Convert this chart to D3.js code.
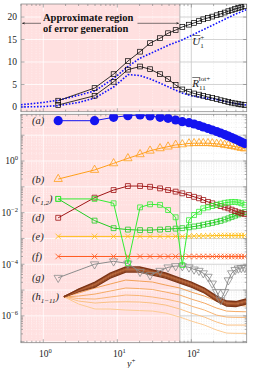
<!DOCTYPE html>
<html>
<head>
<meta charset="utf-8">
<script src="https://cdn.jsdelivr.net/npm/d3@7"></script>
<style>
body { margin: 0; background: #fff; }
text { font-family: "Liberation Serif", "DejaVu Serif", serif; }
</style>
</head>
<body>
<div class="canvas"></div>
<script>
// y+ of the sampled points (markers)
const yPlus = [1.59, 4.93, 8.91, 13.9, 20.3, 27.7, 37.8, 48.5, 61.4, 75.6, 93, 109, 127, 145, 168, 192, 220, 249, 282, 316, 351, 390, 432, 474, 525]

// top panel: black (markers) and blue dotted curves
const U1 = [1.4, 4.2, 7.3, 10.2, 12.3, 14.2, 15.3, 16.4, 17.1, 17.8, 18.3, 18.7, 19.1, 19.5, 19.8, 20.1, 20.4, 20.7, 21.0, 21.3, 21.5, 21.8, 22.0, 22.2, 22.4]
const R11 = [0.44, 2.5, 5.6, 8.3, 9.0, 8.4, 7.3, 6.2, 4.9, 3.9, 3.4, 3.0, 2.75, 2.5, 2.2, 2.0, 1.75, 1.5, 1.3, 1.1, 0.95, 0.8, 0.65, 0.55, 0.45]
const blueX = [0.5, 1, 1.6, 3, 5, 9, 14, 20, 28, 38, 50, 75, 100, 150, 200, 300, 400, 550]
const blueU = [0.5, 1.0, 1.5, 2.6, 3.6, 6.4, 9.0, 10.8, 11.9, 12.9, 13.8, 14.9, 15.9, 17.3, 18.3, 19.7, 20.7, 21.6]
const blueR = [0.0, 0.1, 0.3, 1.0, 2.0, 4.5, 7.2, 7.0, 6.2, 5.3, 4.4, 3.1, 2.5, 2.0, 1.8, 1.15, 0.75, 0.45]

// bottom panel series (a)..(g)
const sA = [36.5, 36.5, 49.4, 57, 60.7, 55.5, 49.4, 45.2, 38.8, 33.3, 30.5, 27.2, 23.8, 20.8, 18.2, 15.9, 13.9, 12.2, 10.6, 9.3, 8.1, 7.1, 6.2, 5.4, 4.8]
const sB = [0.2, 0.45, 0.81, 1.27, 1.82, 2.5, 3.1, 3.6, 4.2, 4.4, 4.8, 4.9, 4.9, 4.9, 4.9, 4.8, 4.6, 4.5, 4.2, 4.06, 3.8, 3.6, 3.4, 3.2, 3.05]
const sC1 = [0.034, 0.034, 0.023, 1.1e-4, 0.016, 0.021, 0.020, 0.0126, 0.0066, 9.3e-5, 0.0051, 0.0081, 0.0108, 0.0147, 0.016, 0.018, 0.020, 0.022, 0.024, 0.025, 0.026, 0.026, 0.025, 0.023, 0.020]
const sC2 = [0.034, 0.0049, 0.0025, 0.0022, 0.0021, 0.0021, 0.0022, 0.0023, 0.0024, 0.0025, 0.0027, 0.0029, 0.0031, 0.0034, 0.0037, 0.0040, 0.0044, 0.0048, 0.0054, 0.0060, 0.0068, 0.0076, 0.0085, 0.0095, 0.0105]
const sD = [0.0063, 0.038, 0.075, 0.107, 0.107, 0.1, 0.087, 0.075, 0.065, 0.056, 0.048, 0.041, 0.036, 0.031, 0.026, 0.023, 0.020, 0.018, 0.016, 0.0147, 0.013, 0.0115, 0.0103, 0.0094, 0.0089]
const sE = [0.0012, 0.0012, 0.0012, 0.0012, 0.0012, 0.0012, 0.0012, 0.0012, 0.0012, 0.0012, 0.00122, 0.00124, 0.00125, 0.00126, 0.00127, 0.00128, 0.00129, 0.0013, 0.0013, 0.0013, 0.0013, 0.0013, 0.0013, 0.0013, 0.0013]
const sF = [2.0e-4, 2.0e-4, 2.0e-4, 2.0e-4, 2.0e-4, 2.0e-4, 2.0e-4, 2.0e-4, 2.0e-4, 2.0e-4, 2.0e-4, 2.0e-4, 2.0e-4, 2.0e-4, 2.0e-4, 2.0e-4, 2.0e-4, 2.0e-4, 2.0e-4, 2.0e-4, 2.0e-4, 2.0e-4, 2.0e-4, 2.0e-4, 2.0e-4]
const sG = [3.0e-5, 1.0e-4, 1.3e-4, 1.07e-4, 5.1e-5, 3.8e-5, 5.6e-5, 7.6e-5, 8.5e-5, 8.5e-5, 7.6e-5, 6.3e-5, 5.6e-5, 4.5e-5, 3.3e-5, 1.8e-5, 8.5e-6, 4.1e-6, 8.5e-6, 2.4e-5, 4.5e-5, 6.0e-5, 6.9e-5, 7.2e-5, 7.4e-5]

// (h1-11) curves, no markers; h1-h6 form the dark band
const hX = [1.9, 3, 5, 8, 13, 20, 30, 45, 70, 100, 150, 220, 300, 400, 550]
const h1 = [5.5e-6, 1.09e-5, 2.04e-5, 4.56e-5, 7.79e-5, 7.79e-5, 5.96e-5, 4.56e-5, 2.92e-5, 2.04e-5, 1.2e-5, 5.85e-6, 3.75e-6, 3.58e-6, 4.48e-6]
const h2 = [5.5e-6, 1.05e-5, 1.87e-5, 4.17e-5, 7.1e-5, 7.1e-5, 5.45e-5, 4.17e-5, 2.67e-5, 1.87e-5, 1.1e-5, 5.35e-6, 3.43e-6, 3.28e-6, 4.1e-6]
const h3 = [5.5e-6, 1.0e-5, 1.71e-5, 3.82e-5, 6.5e-5, 6.5e-5, 5.0e-5, 3.82e-5, 2.44e-5, 1.71e-5, 1.0e-5, 4.9e-6, 3.14e-6, 3.0e-6, 3.75e-6]
const h4 = [5.5e-6, 9.5e-6, 1.56e-5, 3.5e-5, 5.97e-5, 5.97e-5, 4.57e-5, 3.5e-5, 2.24e-5, 1.56e-5, 9.2e-6, 4.48e-6, 2.87e-6, 2.74e-6, 3.43e-6]
const h5 = [5.5e-6, 9.0e-6, 1.43e-5, 3.2e-5, 5.45e-5, 5.45e-5, 4.17e-5, 3.2e-5, 2.04e-5, 1.43e-5, 8.4e-6, 4.1e-6, 2.63e-6, 2.5e-6, 3.14e-6]
const h6 = [5.5e-6, 8.7e-6, 1.3e-5, 2.9e-5, 5.0e-5, 5.0e-5, 3.8e-5, 2.9e-5, 1.87e-5, 1.3e-5, 7.7e-6, 3.75e-6, 2.4e-6, 2.3e-6, 2.87e-6]
const h7 = [5.5e-6, 7.65e-6, 1.2e-5, 1.71e-5, 2.44e-5, 2.23e-5, 2.04e-5, 1.56e-5, 1.2e-5, 8.36e-6, 5.85e-6, 3.75e-6, 2.87e-6, 2.62e-6, 2.4e-6]
const h8 = [5.5e-6, 5.85e-6, 7.0e-6, 9.15e-6, 1.2e-5, 1.14e-5, 1.05e-5, 8.36e-6, 6.4e-6, 4.48e-6, 3.13e-6, 2.0e-6, 1.53e-6, 1.47e-6, 1.44e-6]
const h9 = [5.5e-6, 4.69e-6, 4.48e-6, 5.36e-6, 6.4e-6, 6.12e-6, 5.36e-6, 4.48e-6, 3.43e-6, 2.4e-6, 1.68e-6, 1.07e-6, 8.98e-7, 8.74e-7, 8.74e-7]
const h10 = [5.5e-6, 3.75e-6, 3.13e-6, 3.43e-6, 3.52e-6, 3.43e-6, 3.13e-6, 2.62e-6, 1.84e-6, 1.28e-6, 8.98e-7, 5.75e-7, 4.4e-7, 4.4e-7, 4.4e-7]
const h11 = [5.5e-6, 2.87e-6, 1.84e-6, 1.84e-6, 1.68e-6, 1.6e-6, 1.53e-6, 1.28e-6, 8.98e-7, 6.28e-7, 4.4e-7, 2.82e-7, 2.15e-7, 2.1e-7, 2.1e-7]
const hLines = [h1, h2, h3, h4, h5, h6, h7, h8, h9, h10, h11]
const hColors = ['#7c3416', '#a3532c', '#b8673a', '#a3532c', '#8d4320', '#7c3416', '#f2a057', '#f5aa65', '#f8b574', '#fac083', '#fccb93']

const seriesLabels = ['(a)', '(b)', '(c', '(d)', '(e)', '(f)', '(g)', '(h']
const xTicks = [1, 10, 100]
const yTopTicks = [0, 5, 10, 15, 20]
const yBotTicks = [1, 1e-2, 1e-4, 1e-6]
const errorRegionEnd = 70

const W = 255, H = 368
const left = 21, right = 246.7

const svg = d3.select('.canvas')
              .append('svg')
              .attr('width', W)
              .attr('height', H)

const x = d3.scaleLog().domain([0.5, 560]).range([left, right])
const yTop = d3.scaleLinear().domain([-1.05, 22.9]).range([111.7, 4])
const yBot = d3.scaleLog().domain([Math.pow(10, -7.04), Math.pow(10, 1.81)]).range([342.7, 114.3])

const pink = '#ffe0e0'
const defs = svg.append('defs')

// draw one panel frame with shading + grid
const panel = (name, y, isLog) => {
    const [y0, y1] = y.range()
    const g = svg.append('g')
    g.append('rect').attr('x', left).attr('y', y1).attr('width', right - left).attr('height', y0 - y1).attr('fill', '#fff')
    g.append('rect').attr('x', left).attr('y', y1).attr('width', x(errorRegionEnd) - left).attr('height', y0 - y1).attr('fill', pink)

    defs.append('clipPath').attr('id', name + 'in')
        .append('rect').attr('x', left).attr('y', y1).attr('width', x(errorRegionEnd) - left).attr('height', y0 - y1)
    defs.append('clipPath').attr('id', name + 'out')
        .append('rect').attr('x', x(errorRegionEnd)).attr('y', y1).attr('width', right - x(errorRegionEnd)).attr('height', y0 - y1)
    defs.append('clipPath').attr('id', name + 'all')
        .append('rect').attr('x', left).attr('y', y1).attr('width', right - left).attr('height', y0 - y1)

    const xMinor = x.ticks().filter(t => xTicks.indexOf(t) < 0)
    let yMajor, yMinor
    if (isLog) {
        yMajor = d3.range(-7, 2).map(e => Math.pow(10, e))
        yMinor = []
        d3.range(-8, 2).forEach(e => d3.range(2, 10).forEach(m => yMinor.push(m * Math.pow(10, e))))
        yMinor = yMinor.filter(v => v > y.domain()[0] && v < y.domain()[1])
    } else {
        yMajor = yTopTicks
        yMinor = []
    }

    ;[['in', '#ffffff', '#fff6f6'], ['out', '#c8c8c8', '#e6e6e6']].forEach(([k, cMaj, cMin]) => {
        const gg = g.append('g').attr('clip-path', `url(#${name + k})`)
        gg.selectAll('.vmin').data(xMinor).enter().append('line')
          .attr('x1', d => x(d)).attr('x2', d => x(d)).attr('y1', y0).attr('y2', y1)
          .attr('stroke', cMin).attr('stroke-width', 0.6).attr('stroke-dasharray', '1,1.5')
        gg.selectAll('.hmin').data(yMinor).enter().append('line')
          .attr('x1', left).attr('x2', right).attr('y1', d => y(d)).attr('y2', d => y(d))
          .attr('stroke', cMin).attr('stroke-width', 0.6).attr('stroke-dasharray', '1,1.5')
        gg.selectAll('.vmaj').data(xTicks).enter().append('line')
          .attr('x1', d => x(d)).attr('x2', d => x(d)).attr('y1', y0).attr('y2', y1)
          .attr('stroke', cMaj).attr('stroke-width', 0.8)
        gg.selectAll('.hmaj').data(yMajor).enter().append('line')
          .attr('x1', left).attr('x2', right).attr('y1', d => y(d)).attr('y2', d => y(d))
          .attr('stroke', cMaj).attr('stroke-width', 0.8)
    })

    // boundary of the error region
    g.append('line').attr('x1', x(errorRegionEnd)).attr('x2', x(errorRegionEnd)).attr('y1', y0).attr('y2', y1)
     .attr('stroke', '#b0b0b0').attr('stroke-width', 0.8)

    // ticks (inside, all sides)
    const tk = g.append('g').attr('stroke', '#777').attr('stroke-width', 0.6)
    xTicks.forEach(t => {
        tk.append('line').attr('x1', x(t)).attr('x2', x(t)).attr('y1', y0).attr('y2', y0 - 3.5)
        tk.append('line').attr('x1', x(t)).attr('x2', x(t)).attr('y1', y1).attr('y2', y1 + 3.5)
    })
    xMinor.forEach(t => {
        tk.append('line').attr('x1', x(t)).attr('x2', x(t)).attr('y1', y0).attr('y2', y0 - 2)
        tk.append('line').attr('x1', x(t)).attr('x2', x(t)).attr('y1', y1).attr('y2', y1 + 2)
    })
    yMajor.forEach(t => {
        tk.append('line').attr('x1', left).attr('x2', left + 3.5).attr('y1', y(t)).attr('y2', y(t))
        tk.append('line').attr('x1', right).attr('x2', right - 3.5).attr('y1', y(t)).attr('y2', y(t))
    })
    yMinor.forEach(t => {
        tk.append('line').attr('x1', left).attr('x2', left + 2).attr('y1', y(t)).attr('y2', y(t))
        tk.append('line').attr('x1', right).attr('x2', right - 2).attr('y1', y(t)).attr('y2', y(t))
    })
    g.append('rect').attr('x', left).attr('y', y1).attr('width', right - left).attr('height', y0 - y1)
     .attr('fill', 'none').attr('stroke', '#8a8a8a').attr('stroke-width', 0.8)
    return g
}

panel('top', yTop, false)
panel('bot', yBot, true)

// ---------- top panel curves ----------
const topG = svg.append('g').attr('clip-path', 'url(#topall)')
const lineTopB = d3.line().x((d, i) => x(blueX[i])).y(d => yTop(d))
const lineTop = d3.line().x((d, i) => x(yPlus[i])).y(d => yTop(d))

;[blueU, blueR].forEach(s => {
    topG.append('path').attr('d', lineTopB(s)).attr('fill', 'none')
        .attr('stroke', '#1010ff').attr('stroke-width', 1.6).attr('stroke-dasharray', '1.6,1.6')
})
;[U1, R11].forEach(s => {
    topG.append('path').attr('d', lineTop(s)).attr('fill', 'none').attr('stroke', '#000').attr('stroke-width', 0.8)
    topG.selectAll(null).data(s).enter().append('rect')
        .attr('x', (d, i) => x(yPlus[i]) - 2.4).attr('y', d => yTop(d) - 2.4)
        .attr('width', 4.8).attr('height', 4.8)
        .attr('fill', 'none').attr('stroke', '#000').attr('stroke-width', 0.7)
})

// ---------- bottom panel curves ----------
const botG = svg.append('g').attr('clip-path', 'url(#botall)')
const lineBot = d3.line().x((d, i) => x(yPlus[i])).y(d => yBot(d))
const lineH = d3.line().x((d, i) => x(hX[i])).y(d => yBot(d))

// light lines first, band on top
d3.range(hLines.length - 1, -1, -1).forEach(i => {
    botG.append('path').attr('d', lineH(hLines[i])).attr('fill', 'none')
        .attr('stroke', hColors[i]).attr('stroke-width', i < 6 ? 1.4 : 1)
})

const markerPath = {
    square: d3.symbol().type(d3.symbolSquare).size(24),
    tri: d3.symbol().type(d3.symbolTriangle).size(30),
    cross: d3.symbol().type(d3.symbolX).size(22),
}

const bottomSeries = [
    { data: sG, color: '#8c8c8c', m: 'tri', rot: 180 },
    { data: sF, color: '#ff5a1f', m: 'cross' },
    { data: sE, color: '#ffbe17', m: 'cross' },
    { data: sC2, color: '#22cc22', m: 'square' },
    { data: sD, color: '#a01515', m: 'square' },
    { data: sC1, color: '#33ee33', m: 'square' },
    { data: sB, color: '#ff9f1a', m: 'tri', rot: 0 },
]

bottomSeries.forEach(s => {
    botG.append('path').attr('d', lineBot(s.data)).attr('fill', 'none')
        .attr('stroke', s.color).attr('stroke-width', 1)
    botG.selectAll(null).data(s.data).enter().append('path')
        .attr('d', markerPath[s.m])
        .attr('transform', (d, i) => `translate(${x(yPlus[i])}, ${yBot(d)}) rotate(${s.rot || 0})`)
        .attr('fill', 'none').attr('stroke', s.color).attr('stroke-width', 0.8)
})

// (a) filled circles
botG.append('path').attr('d', lineBot(sA)).attr('fill', 'none').attr('stroke', '#1414f0').attr('stroke-width', 1)
botG.selectAll(null).data(sA).enter().append('circle')
    .attr('cx', (d, i) => x(yPlus[i])).attr('cy', d => yBot(d)).attr('r', 4.6)
    .attr('fill', '#1414f0')

// ---------- labels ----------
const txt = svg.append('g').attr('fill', '#222')

const labelY = [sA[0], sB[0], sC1[0], sD[0], sE[0], sF[0], sG[0], h1[0]]
seriesLabels.forEach((l, i) => {
    const t = txt.append('text').attr('x', 32).attr('y', yBot(labelY[i]) + 3.5)
                 .attr('font-size', 10.5).attr('font-style', 'italic')
    if (l == '(c') {
        t.text('(c')
        t.append('tspan').attr('font-size', 7).attr('dy', 2.5).text('1,2')
        t.append('tspan').attr('dy', -2.5).text(')')
    } else if (l == '(h') {
        t.text('(h')
        t.append('tspan').attr('font-size', 7).attr('dy', 2.5).text('1−11')
        t.append('tspan').attr('dy', -2.5).text(')')
    } else {
        t.text(l)
    }
})

// tick labels
yTopTicks.forEach(v => {
    txt.append('text').attr('x', 17).attr('y', yTop(v) + 3.3).attr('text-anchor', 'end')
       .attr('font-size', 9.5).text(v)
})
const expo = { 1: '0', 1e-2: '−2', 1e-4: '−4', 1e-6: '−6' }
yBotTicks.forEach(v => {
    const t = txt.append('text').attr('x', 18).attr('y', yBot(v) + 3.3).attr('text-anchor', 'end').attr('font-size', 9.5)
    t.append('tspan').text('10')
    t.append('tspan').attr('font-size', 6.5).attr('dy', -4).text(expo[v])
})
xTicks.forEach((v, i) => {
    const t = txt.append('text').attr('x', x(v) + 2).attr('y', 357).attr('text-anchor', 'middle').attr('font-size', 9.5)
    t.append('tspan').text('10')
    t.append('tspan').attr('font-size', 6.5).attr('dy', -4).text(i)
})
const yl = txt.append('text').attr('x', 127).attr('y', 366.5).attr('font-size', 10).attr('font-style', 'italic')
yl.append('tspan').text('y')
yl.append('tspan').attr('font-size', 7).attr('dy', -4).attr('font-style', 'normal').text('+')

// U1+ and R11 labels
const uLab = txt.append('text').attr('x', x(103)).attr('y', 45).attr('font-size', 11).attr('font-style', 'italic')
uLab.append('tspan').text('U')
uLab.append('tspan').attr('font-size', 7).attr('dy', 2.5).attr('font-style', 'normal').text('1')
uLab.append('tspan').attr('font-size', 7).attr('dx', -3.5).attr('dy', -8).attr('font-style', 'normal').text('+')
txt.append('line').attr('x1', x(103)).attr('x2', x(103) + 8).attr('y1', 35.5).attr('y2', 35.5).attr('stroke', '#222').attr('stroke-width', 0.6)

const rLab = txt.append('text').attr('x', x(103)).attr('y', 87).attr('font-size', 11).attr('font-style', 'italic')
rLab.append('tspan').text('R')
rLab.append('tspan').attr('font-size', 7).attr('dy', 2.5).attr('font-style', 'normal').text('11')
rLab.append('tspan').attr('font-size', 7).attr('dx', -7).attr('dy', -9).attr('font-style', 'normal').text('tot+')
txt.append('line').attr('x1', x(103)).attr('x2', x(103) + 8).attr('y1', 77.5).attr('y2', 77.5).attr('stroke', '#222').attr('stroke-width', 0.6)

// error generation annotation
const arrowY = 23.3
defs.append('marker').attr('id', 'ah').attr('viewBox', '0 0 10 10').attr('refX', 9).attr('refY', 5)
    .attr('markerWidth', 5).attr('markerHeight', 5).attr('orient', 'auto-start-reverse')
    .append('path').attr('d', 'M0,1 L10,5 L0,9 L3,5 Z').attr('fill', '#222')
svg.append('line').attr('x1', x(0.52)).attr('x2', x(errorRegionEnd) - 1).attr('y1', arrowY).attr('y2', arrowY)
   .attr('stroke', '#222').attr('stroke-width', 0.6)
   .attr('marker-start', 'url(#ah)').attr('marker-end', 'url(#ah)')

const note = svg.append('g')
const noteBg = note.append('rect').attr('fill', pink)
const nt = note.append('text').attr('font-size', 10.5).attr('font-weight', 'bold').attr('fill', '#111')
nt.append('tspan').attr('x', 43).attr('y', 20.5).text('Approximate region')
nt.append('tspan').attr('x', 43).attr('y', 31.5).text('of error generation')
const bb = nt.node().getBBox()
noteBg.attr('x', bb.x - 2).attr('y', bb.y).attr('width', bb.width + 6).attr('height', bb.height)
</script>
</body>
</html>
